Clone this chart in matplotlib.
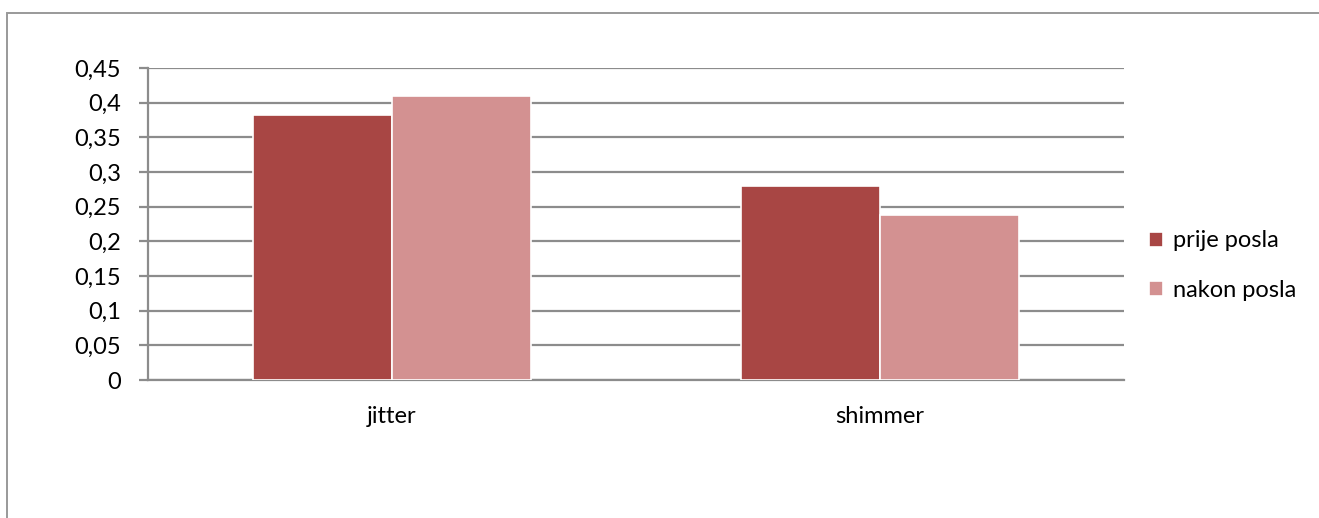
import matplotlib.pyplot as plt
from matplotlib.patches import Rectangle

plt.rcParams['font.family'] = ['Lato', 'DejaVu Sans']

categories = ['jitter', 'shimmer']
series_names = ['prije posla', 'nakon posla']
prije = [0.382, 0.280]
nakon = [0.410, 0.238]
yticks = [0, 0.05, 0.1, 0.15, 0.2, 0.25, 0.3, 0.35, 0.4, 0.45]
ytick_labels = ['0', '0,05', '0,1', '0,15', '0,2', '0,25', '0,3', '0,35', '0,4', '0,45']

colors = ['#A84644', '#D39191']
grid_col = '#8C8C8C'

fig = plt.figure(figsize=(13.19, 5.18), dpi=100)
ax = fig.add_axes([0.1122, 0.2664, 0.740, 0.6023])

# outer frame of the chart area
fig.patches.append(Rectangle((7 / 1319, -0.05), 1.1, 1 - 13 / 518 + 0.05,
                             transform=fig.transFigure, fill=False,
                             edgecolor='#999999', linewidth=1.4))

x = list(range(len(categories)))
w = 0.284
ax.bar([i - w / 2 for i in x], prije, width=w, color=colors[0],
       edgecolor='white', linewidth=1.2, label=series_names[0], zorder=3)
ax.bar([i + w / 2 for i in x], nakon, width=w, color=colors[1],
       edgecolor='white', linewidth=1.2, label=series_names[1], zorder=3)

ax.set_xlim(-0.5, 1.5)
ax.set_ylim(0, 0.45)
ax.set_yticks(yticks)
ax.set_yticklabels(ytick_labels)
ax.set_xticks(x)
ax.set_xticklabels(categories)

ax.grid(axis='y', color=grid_col, linewidth=1.6, zorder=0)
ax.set_axisbelow(True)
for s in ['top', 'right']:
    ax.spines[s].set_visible(False)
ax.spines['left'].set_color(grid_col)
ax.spines['left'].set_linewidth(1.6)
ax.spines['bottom'].set_color(grid_col)
ax.spines['bottom'].set_linewidth(1.6)

ax.tick_params(axis='y', length=6.5, width=1.6, color=grid_col, pad=13, labelsize=17)
ax.tick_params(axis='x', length=0, pad=19, labelsize=17)

ax.legend(loc='center left', bbox_to_anchor=(1.0256, 0.367), frameon=False,
          fontsize=17, handlelength=0.6, handleheight=0.6, handletextpad=0.4,
          labelspacing=1.2, borderpad=0, borderaxespad=0)

fig.savefig('out.png', dpi=100)
